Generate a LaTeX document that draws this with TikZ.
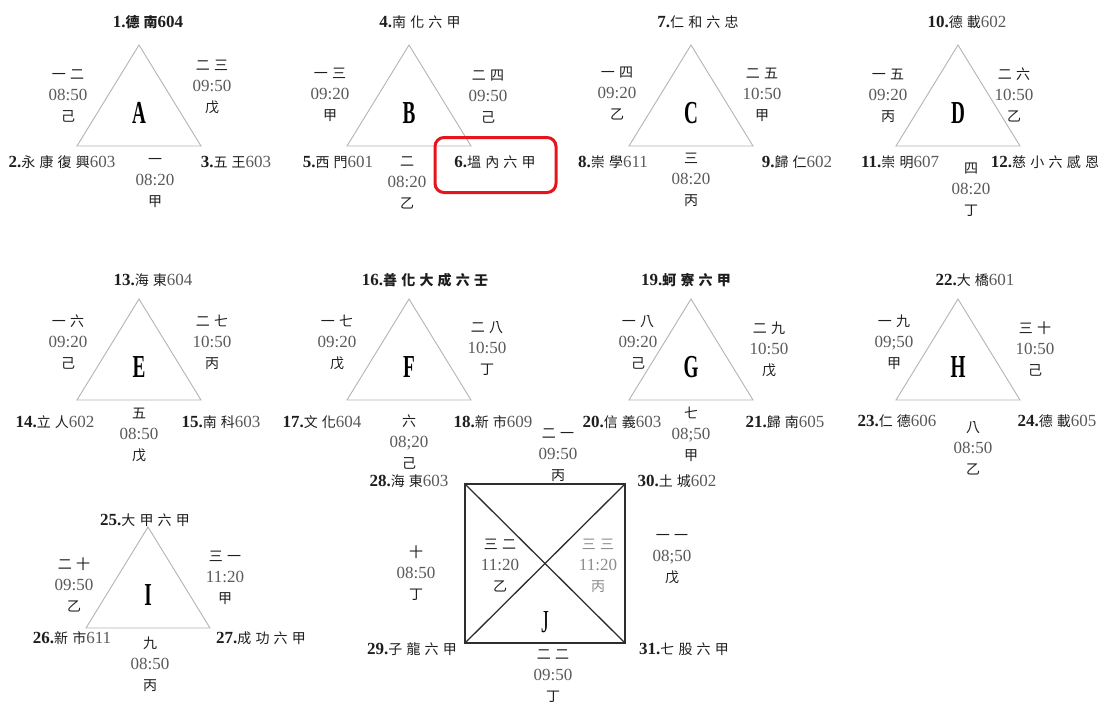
\documentclass[tikz,border=0pt]{standalone}
\usepackage{fontspec}
\usepackage{graphicx}
\setmainfont{Liberation Serif}
\newfontfamily\cjk[LetterSpace=30]{Noto Sans CJK TC}
\definecolor{cline}{HTML}{B4B4B4}
\definecolor{ttime}{HTML}{5A5A5A}
\definecolor{tcjk}{HTML}{1E1E1E}
\definecolor{tlight}{HTML}{8C8C8C}
\definecolor{sqc}{HTML}{2E2E2E}
\definecolor{tred}{HTML}{E8141B}
\newcommand\ck[1]{{\fontsize{14}{21}\selectfont\cjk #1}}
\newcommand\dg[1]{{\color{ttime}#1}}
\newcommand\stn[3]{{\bfseries #1.}\ck{#2}\dg{#3}}
\newcommand\stnb[3]{{\bfseries #1.}{\bfseries\ck{#2}}{\bfseries #3}}
\newcommand\blk[3]{\ck{#1}\\\dg{#2}\\\ck{#3}}
\newcommand\mktri[4]{%
  \coordinate (#1t) at (#2,#3);
  \coordinate (#1l) at (#2-62,#3+101);
  \coordinate (#1r) at (#2+62,#3+101);
  \draw[triline] (#1t) -- (#1l) -- (#1r) -- cycle;
  \node[bigletter] (#1) at (#2,#3+68) {\scalebox{0.6}[1]{#4}};}
\tikzset{
  triline/.style={draw=cline, line width=0.9pt},
  bigletter/.style={font=\fontsize{32}{32}\selectfont\bfseries, inner sep=0, text=black},
  stat/.style={font=\fontsize{17}{21}\selectfont, inner sep=0, text=tcjk},
  blkn/.style={stat, align=center},
  sqline/.style={draw=sqc, line width=2pt},
  diagline/.style={draw=sqc, line width=1.3pt},
  redframe/.style={draw=tred, line width=3pt, rounded corners=9pt, minimum width=121pt, minimum height=55pt, inner sep=0}
}
\begin{document}
\begin{tikzpicture}[x=1pt,y=-1pt]
\path[fill=white,use as bounding box] (0,0) rectangle (1102,702);

% triangles
\mktri{A}{139}{45}{A}
\mktri{B}{409}{45}{B}
\mktri{C}{691}{45}{C}
\mktri{D}{958}{45}{D}
\mktri{E}{139}{299}{E}
\mktri{F}{409}{299}{F}
\mktri{G}{691}{299}{G}
\mktri{H}{958}{299}{H}
\mktri{I}{148}{527}{I}

% square J
\coordinate (J28) at (465,484);
\coordinate (J30) at (625,484);
\coordinate (J29) at (465,643);
\coordinate (J31) at (625,643);
\draw[diagline] (J28) -- (J31);
\draw[diagline] (J30) -- (J29);
\draw[sqline] (J28) -- (J30) -- (J31) -- (J29) -- cycle;
\node[bigletter] (J) at (545,622) {\scalebox{0.6}[1]{\mdseries J}};

% red frame
\node[redframe] (redbox) at (495.5,165) {};

% station labels
\node[stat] (s1) at (148,22) {\stnb{1}{德南}{604}};
\node[stat] (s2) at (62,162) {\stn{2}{永康復興}{603}};
\node[stat] (s3) at (236,162) {\stn{3}{五王}{603}};
\node[stat] (s4) at (420,22) {\stn{4}{南化六甲}{}};
\node[stat] (s5) at (338,162) {\stn{5}{西門}{601}};
\node[stat] (s6) at (495,162) {\stn{6}{塭內六甲}{}};
\node[stat] (s7) at (698,22) {\stn{7}{仁和六忠}{}};
\node[stat] (s8) at (613,162) {\stn{8}{崇學}{611}};
\node[stat] (s9) at (797,162) {\stn{9}{歸仁}{602}};
\node[stat] (s10) at (967,22) {\stn{10}{德載}{602}};
\node[stat] (s11) at (900,162) {\stn{11}{崇明}{607}};
\node[stat] (s12) at (1045,162) {\stn{12}{慈小六感恩}{}};
\node[stat] (s13) at (153,280) {\stn{13}{海東}{604}};
\node[stat] (s14) at (55,422) {\stn{14}{立人}{602}};
\node[stat] (s15) at (221,422) {\stn{15}{南科}{603}};
\node[stat] (s16) at (425,280) {\stnb{16}{善化大成六壬}{}};
\node[stat] (s17) at (322,422) {\stn{17}{文化}{604}};
\node[stat] (s18) at (493,422) {\stn{18}{新市}{609}};
\node[stat] (s19) at (686,280) {\stnb{19}{蚵寮六甲}{}};
\node[stat] (s20) at (622,422) {\stn{20}{信義}{603}};
\node[stat] (s21) at (785,422) {\stn{21}{歸南}{605}};
\node[stat] (s22) at (975,280) {\stn{22}{大橋}{601}};
\node[stat] (s23) at (897,421) {\stn{23}{仁德}{606}};
\node[stat] (s24) at (1057,421) {\stn{24}{德載}{605}};
\node[stat] (s25) at (145,520) {\stn{25}{大甲六甲}{}};
\node[stat] (s26) at (72,638) {\stn{26}{新市}{611}};
\node[stat] (s27) at (261,638) {\stn{27}{成功六甲}{}};
\node[stat] (s28) at (409,481) {\stn{28}{海東}{603}};
\node[stat] (s29) at (412,649) {\stn{29}{子龍六甲}{}};
\node[stat] (s30) at (677,481) {\stn{30}{土城}{602}};
\node[stat] (s31) at (684,649) {\stn{31}{七股六甲}{}};

% three-line blocks
\node[blkn] (A-L) at (68,96) {\blk{一二}{08:50}{己}};
\node[blkn] (A-R) at (212,87) {\blk{二三}{09:50}{戊}};
\node[blkn] (A-B) at (155,183) {\blk{一}{08:20}{甲}};
\node[blkn] (B-L) at (330,95) {\blk{一三}{09:20}{甲}};
\node[blkn] (B-R) at (488,97) {\blk{二四}{09:50}{己}};
\node[blkn] (B-B) at (407,183) {\blk{二}{08:20}{乙}};
\node[blkn] (C-L) at (617,94) {\blk{一四}{09:20}{乙}};
\node[blkn] (C-R) at (762,95) {\blk{二五}{10:50}{甲}};
\node[blkn] (C-B) at (691,180) {\blk{三}{08:20}{丙}};
\node[blkn] (D-L) at (888,96) {\blk{一五}{09:20}{丙}};
\node[blkn] (D-R) at (1014,95) {\blk{二六}{10:50}{乙}};
\node[blkn] (D-B) at (971,190) {\blk{四}{08:20}{丁}};
\node[blkn] (E-L) at (68,342) {\blk{一六}{09:20}{己}};
\node[blkn] (E-R) at (212,342) {\blk{二七}{10:50}{丙}};
\node[blkn] (E-B) at (139,435) {\blk{五}{08:50}{戊}};
\node[blkn] (F-L) at (337,342) {\blk{一七}{09:20}{戊}};
\node[blkn] (F-R) at (487,349) {\blk{二八}{10:50}{丁}};
\node[blkn] (F-B) at (409,442) {\blk{六}{08;20}{己}};
\node[blkn] (G-L) at (638,342) {\blk{一八}{09:20}{己}};
\node[blkn] (G-R) at (769,349) {\blk{二九}{10:50}{戊}};
\node[blkn] (G-B) at (691,434) {\blk{七}{08;50}{甲}};
\node[blkn] (H-L) at (894,342) {\blk{一九}{09;50}{甲}};
\node[blkn] (H-R) at (1035,349) {\blk{三十}{10:50}{己}};
\node[blkn] (H-B) at (973,448) {\blk{八}{08:50}{乙}};
\node[blkn] (I-L) at (74,585) {\blk{二十}{09:50}{乙}};
\node[blkn] (I-R) at (225,578) {\blk{三一}{11:20}{甲}};
\node[blkn] (I-B) at (150,664) {\blk{九}{08:50}{丙}};
\node[blkn] (J-T) at (558,455) {\blk{二一}{09:50}{丙}};
\node[blkn] (J-B) at (553,676) {\blk{二二}{09:50}{丁}};
\node[blkn] (J-L) at (416,573) {\blk{十}{08:50}{丁}};
\node[blkn] (J-R) at (672,559) {\blk{一一}{08;50}{戊}};
\node[blkn] (J-IL) at (500,566) {\blk{三二}{11:20}{乙}};
\node[blkn, text=tlight] (J-IR) at (598,566) {\ck{三三}\\11:20\\\ck{丙}};
\end{tikzpicture}
\end{document}
